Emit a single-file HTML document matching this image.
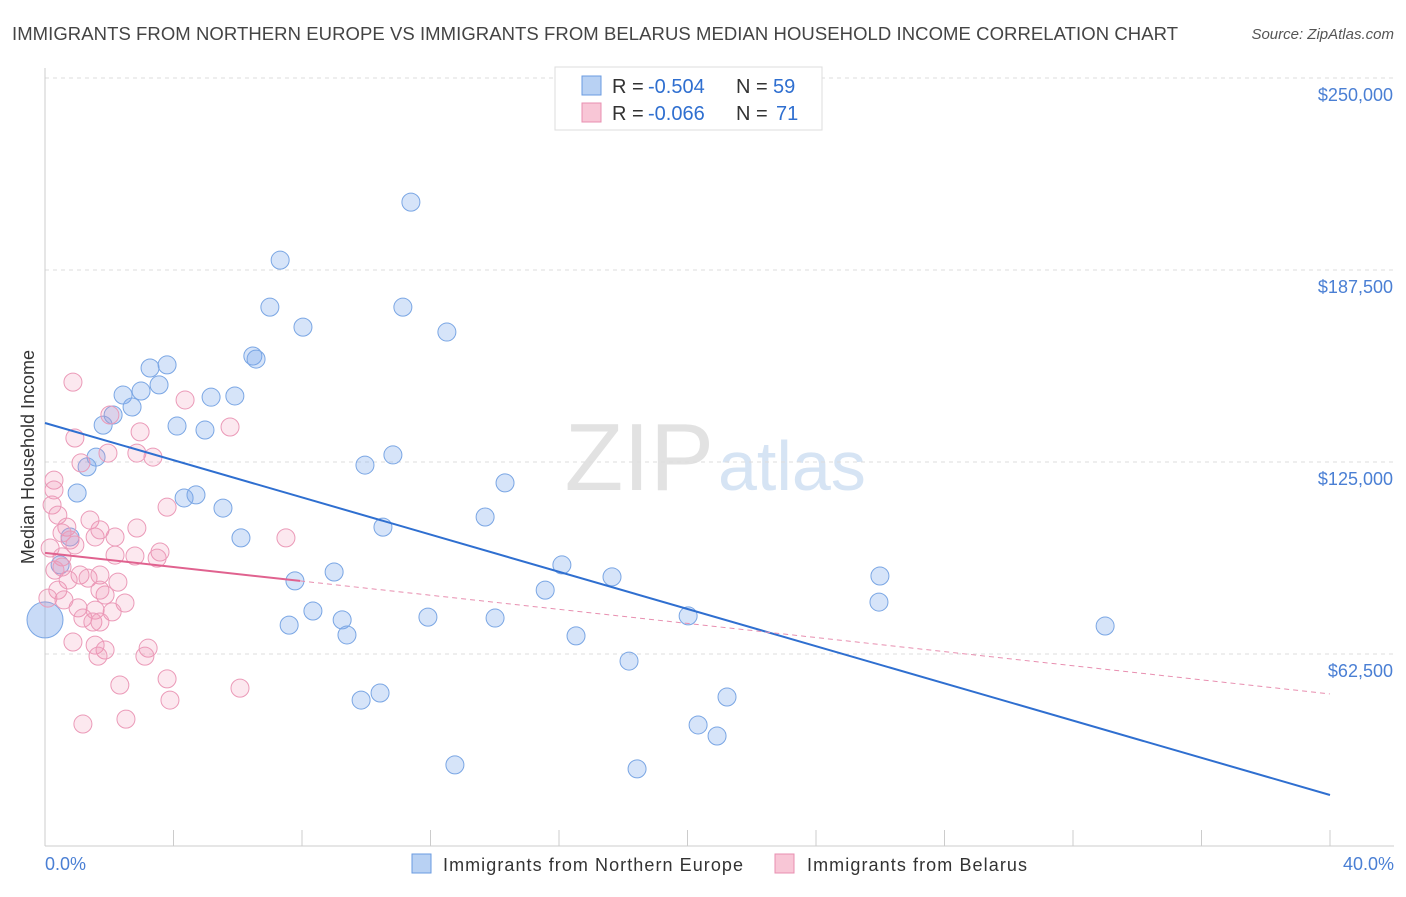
<!DOCTYPE html>
<html><head><meta charset="utf-8"><style>
body{margin:0;background:#fff;font-family:"Liberation Sans",sans-serif;}
svg text{font-family:"Liberation Sans",sans-serif;}
</style></head><body>
<svg id="chart" width="1406" height="892" xmlns="http://www.w3.org/2000/svg">
<text x="12" y="40" font-size="18.5" fill="#444" textLength="1166">IMMIGRANTS FROM NORTHERN EUROPE VS IMMIGRANTS FROM BELARUS MEDIAN HOUSEHOLD INCOME CORRELATION CHART</text>
<text x="1394" y="39" font-size="15" fill="#555" font-style="italic" text-anchor="end">Source: ZipAtlas.com</text>
<text x="714" y="490" font-size="96" fill="#e2e2e2" text-anchor="end" font-family="Liberation Serif">ZIP</text>
<text x="718" y="490" font-size="70" fill="#d6e4f4">atlas</text>
<g id="grid"></g><g id="axes"></g><g id="pts"></g><g id="trends"></g>
<text x="34" y="457" font-size="18" fill="#333" text-anchor="middle" transform="rotate(-90 34 457)">Median Household Income</text>
<text x="45" y="870" font-size="18" fill="#4a7fd4">0.0%</text>
<text x="1394" y="870" font-size="18" fill="#4a7fd4" text-anchor="end">40.0%</text>
<g>
<rect x="555" y="67" width="267" height="63" fill="#fff" stroke="#ddd"/>
<rect x="582" y="76" width="19" height="19" fill="#b8d1f3" stroke="#6a9be0"/>
<rect x="582" y="103" width="19" height="19" fill="#f8c6d6" stroke="#e88fb0"/>
<text x="612" y="93" font-size="20" fill="#333">R = </text><text x="648" y="93" font-size="20" fill="#2f6fd0">-0.504</text>
<text x="736" y="93" font-size="20" fill="#333">N = </text><text x="773" y="93" font-size="20" fill="#2f6fd0">59</text>
<text x="612" y="120" font-size="20" fill="#333">R = </text><text x="648" y="120" font-size="20" fill="#2f6fd0">-0.066</text>
<text x="736" y="120" font-size="20" fill="#333">N = </text><text x="776" y="120" font-size="20" fill="#2f6fd0">71</text>
</g>
<g>
<rect x="412" y="854" width="19" height="19" fill="#b8d1f3" stroke="#6a9be0"/>
<text x="443" y="871" font-size="18" fill="#333" textLength="300">Immigrants from Northern Europe</text>
<rect x="775" y="854" width="19" height="19" fill="#f8c6d6" stroke="#e88fb0"/>
<text x="807" y="871" font-size="18" fill="#333" textLength="220">Immigrants from Belarus</text>
</g>
</svg>
<script>
const yTicks=[62500,125000,187500,250000];
const yTickLabels=["$62,500","$125,000","$187,500","$250,000"];
const xTicks=[0,4,8,12,16,20,24,28,32,36,40];
const blueX=[11.39,7.32,7.0,11.14,8.03,12.51,6.47,6.57,3.80,3.27,3.55,2.43,2.99,5.17,5.91,2.71,2.12,1.81,4.11,4.98,10.83,9.96,1.59,1.31,14.32,1.00,4.33,4.70,5.54,13.70,10.52,6.10,16.09,17.65,9.00,7.78,25.99,15.57,25.96,8.34,9.25,11.92,14.01,20.02,7.60,9.40,16.53,33.0,18.18,21.23,10.43,9.84,20.33,20.92,12.76,18.43,0.47,0.78];
const blueY=[209600,190700,175400,175400,168900,167300,159500,158500,156600,155600,150100,146800,148100,146100,146500,142900,140300,137000,136700,135400,127300,124000,126600,123400,118200,114900,113300,114300,110000,107100,103800,100300,91500,87600,89200,86300,87900,83300,79400,76500,73600,74500,74200,74900,71900,68700,68400,71600,60200,48500,49800,47500,39400,35800,26400,25100,91500,100600];
const pinkX=[0.87,2.02,4.36,5.76,0.93,2.96,2.86,1.96,3.36,1.12,0.28,0.28,0.22,3.80,0.40,1.40,2.86,0.68,0.53,1.56,1.71,0.78,0.93,2.18,7.50,2.18,2.80,3.58,3.49,0.16,0.53,1.09,1.34,0.72,0.40,1.71,1.87,2.49,0.09,1.03,1.56,2.09,1.18,1.49,1.71,0.87,1.56,1.87,1.65,3.21,3.11,3.80,2.33,6.07,3.89,1.18,2.52,0.53,0.31,2.27,0.59,1.71];
const pinkY=[151000,140300,145200,136400,132800,134800,127900,127900,126600,124700,119100,115900,111000,110300,107700,106100,103500,103800,101900,100600,102900,99600,98000,100600,100300,94700,94400,95700,93700,97000,90800,88200,87200,86600,83300,88200,81700,79100,80700,77500,76800,76200,74200,72900,72900,66400,65400,63800,61800,64400,61800,54400,52400,51400,47500,39700,41300,94100,89800,85900,80100,83300];
const blueTrend=[137700,16600];
const pinkTrend=[95400,49500];
const pinkSolidEnd=7.94;
const NS="http://www.w3.org/2000/svg";
const sx=v=>45+v/40*1285;
const sy=v=>846-v/62500*192;
function mk(tag,attrs,parent){const e=document.createElementNS(NS,tag);for(const k in attrs)e.setAttribute(k,attrs[k]);document.getElementById(parent).appendChild(e);return e;}
yTicks.forEach((t,i)=>{
 const l=mk('line',{x1:45,x2:1394,y1:sy(t),y2:sy(t),stroke:'#ddd','stroke-dasharray':'4,4'},'grid');
 
 
 const tx=mk('text',{x:1393,y:sy(t)+23,'font-size':18,fill:'#4a7fd4','text-anchor':'end'},'grid');
 tx.textContent=yTickLabels[i];
 
 
});
const tl=mk('line',{x1:45,x2:1394,y1:78,y2:78,stroke:'#ddd','stroke-dasharray':'4,4'},'grid');


const ya=mk('line',{x1:45,x2:45,y1:68,y2:846,stroke:'#ccc'},'axes');


const xa=mk('line',{x1:45,x2:1394,y1:846,y2:846,stroke:'#ccc'},'axes');


xTicks.forEach(t=>{
 const l=mk('line',{x1:sx(t),x2:sx(t),y1:830,y2:846,stroke:'#ccc'},'axes');
 
 
});
blueX.forEach((x,i)=>{
 const c=mk('circle',{cx:sx(x),cy:sy(blueY[i]),r:9,fill:'rgba(120,165,235,0.3)',stroke:'#7aa6e4','stroke-width':1},'pts');
 
 
});
const big=mk('circle',{cx:sx(0),cy:sy(73600),r:18,fill:'rgba(120,165,235,0.4)',stroke:'#7aa6e4','stroke-width':1},'pts');


pinkX.forEach((x,i)=>{
 const c=mk('circle',{cx:sx(x),cy:sy(pinkY[i]),r:9,fill:'rgba(240,140,175,0.2)',stroke:'#eb9ab8','stroke-width':1},'pts');
 
 
});
const bt=mk('line',{x1:sx(0),y1:sy(blueTrend[0]),x2:sx(40),y2:sy(blueTrend[1]),stroke:'#2f6fd0','stroke-width':2},'trends');


const pAt=x=>pinkTrend[0]+(pinkTrend[1]-pinkTrend[0])*x/40;
const ps=mk('line',{x1:sx(0),y1:sy(pinkTrend[0]),x2:sx(pinkSolidEnd),y2:sy(pAt(pinkSolidEnd)),stroke:'#e0628f','stroke-width':2},'trends');


const pd=mk('line',{x1:sx(pinkSolidEnd),y1:sy(pAt(pinkSolidEnd)),x2:sx(40),y2:sy(pinkTrend[1]),stroke:'#e88fb0','stroke-width':1,'stroke-dasharray':'5,4'},'trends');


</script>
</body></html>
